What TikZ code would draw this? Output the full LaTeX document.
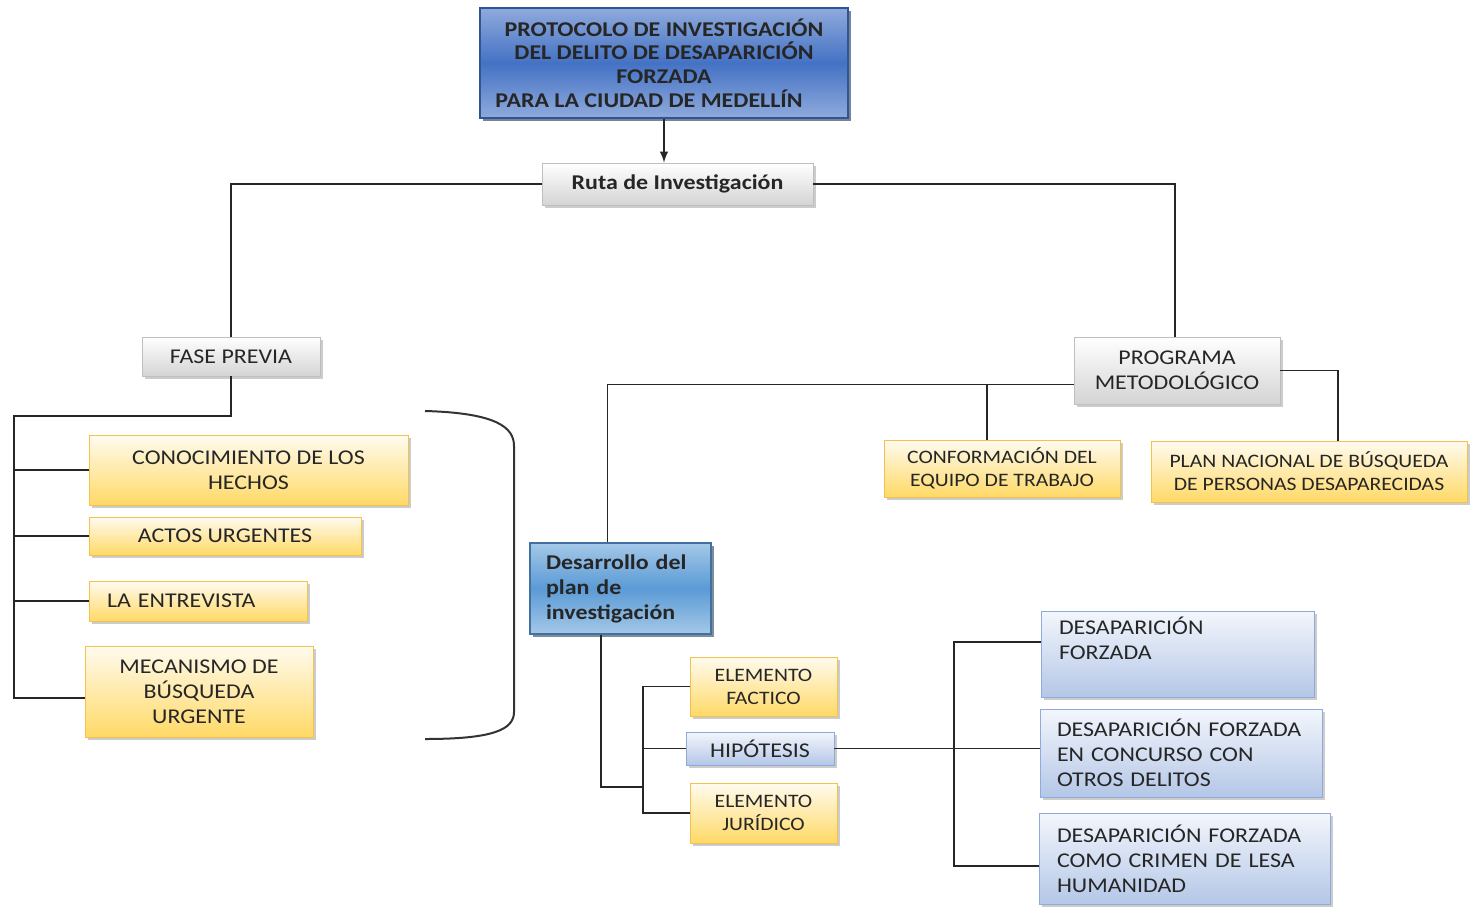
\documentclass[tikz,border=0pt]{standalone}
\usepackage{fontspec}
\setmainfont{Carlito}[FakeStretch=1.14]
\usetikzlibrary{shadows,positioning}
\definecolor{grayline}{HTML}{BFBFBF}
\definecolor{graybot}{HTML}{D4D4D4}
\definecolor{yelline}{HTML}{F2C14E}
\definecolor{yelbot}{HTML}{FFD966}
\definecolor{yeltop}{HTML}{FFFBEF}
\definecolor{titleline}{HTML}{2F5597}
\definecolor{titlemid}{HTML}{4472C4}
\definecolor{titleout}{HTML}{8FAADC}
\definecolor{devline}{HTML}{41719C}
\definecolor{devmid}{HTML}{5B9BD5}
\definecolor{devout}{HTML}{A4C8E8}
\definecolor{ltline}{HTML}{8FAADC}
\definecolor{lttop}{HTML}{F3F6FC}
\definecolor{ltbot}{HTML}{B4C7E7}

\begin{document}
\begin{tikzpicture}[x=0.5pt,y=-0.5pt,
	box/.style={draw,rectangle,inner sep=0pt,align=center,text=black!85,
		font=\fontsize{10.5}{12.5}\selectfont,
		drop shadow={shadow xshift=1.3pt,shadow yshift=-1.3pt,fill=black!40}},
	smallbox/.style={box,font=\fontsize{9.5}{11.5}\selectfont},
	graybox/.style={draw=grayline,top color=white,bottom color=graybot},
	yelbox/.style={draw=yelline,top color=yeltop,bottom color=yelbot},
	ltbox/.style={draw=ltline,top color=lttop,bottom color=ltbot},
	link/.style={draw=black!85,line width=0.9pt}]
	\useasboundingbox (0,0) rectangle (1473,906);
	% top of the chart
	\node[box,draw=titleline,line width=0.8pt,top color=titleout,bottom color=titleout,middle color=titlemid,
		font=\fontsize{10.5}{11.85}\selectfont\bfseries,minimum width=184pt,minimum height=55pt,
		drop shadow={shadow xshift=1.5pt,shadow yshift=-1.5pt,fill=titleline!70!black}]
		(titulo) at (664,63) {PROTOCOLO DE INVESTIGACIÓN\\DEL DELITO DE DESAPARICIÓN\\FORZADA\\PARA LA CIUDAD DE MEDELLÍN\hspace*{15pt}};
	\node[box,graybox,font=\fontsize{10.5}{12.5}\selectfont\bfseries,minimum width=135.5pt,minimum height=21pt] (ruta) at (677.5,184) {Ruta de Investigación};
	\draw[link,-latex] (titulo.south) -- (titulo.south |- ruta.north);
	% fase previa
	\node[box,graybox,minimum width=89pt,minimum height=19.5pt] (fase) at (231,356.5) {FASE PREVIA};
	\node[box,yelbox,minimum width=159.5pt,minimum height=35pt] (conoc) at (248.5,470) {CONOCIMIENTO DE LOS\\HECHOS};
	\node[box,yelbox,minimum width=136pt,minimum height=19pt] (actos) at (225,536) {ACTOS URGENTES};
	\node[box,yelbox,align=left,inner xsep=9pt,text width=91pt,minimum height=20pt] (entrev) at (198,601) {LA ENTREVISTA};
	\node[box,yelbox,minimum width=114pt,minimum height=45.5pt] (mecan) at (199,691.5) {MECANISMO DE\\BÚSQUEDA\\URGENTE};
	\draw[link] (ruta.west) -| (fase.north);
	\coordinate (fpl) at (14,416);
	\coordinate (fpb) at (14,698);
	\draw[link] (fase.south) |- (fpl) -- (fpb) -- (fpb -| mecan.west);
	\foreach \n in {conoc,actos,entrev} \draw[link] (\n.west) -- (\n.west -| fpl);
	\draw[black!80,line width=1pt] (425,411) .. controls (498,413) and (514,428) .. (514,446) -- (514,712) .. controls (514,730) and (492,739) .. (425,739);
	% programa metodologico
	\node[box,graybox,minimum width=103pt,minimum height=33.5pt] (prog) at (1177,370.5) {PROGRAMA\\METODOLÓGICO};
	\node[smallbox,yelbox,minimum width=118pt,minimum height=28.5pt] (conf) at (1002,468.5) {CONFORMACIÓN DEL\\EQUIPO DE TRABAJO};
	\node[smallbox,yelbox,minimum width=158pt,minimum height=30.5pt] (plan) at (1309,471.5) {PLAN NACIONAL DE BÚSQUEDA\\DE PERSONAS DESAPARECIDAS};
	\node[box,draw=devline,line width=0.8pt,top color=devout,bottom color=devout,middle color=devmid,
		font=\fontsize{10.5}{12.5}\selectfont\bfseries,align=left,inner xsep=8pt,text width=74.5pt,minimum height=45.5pt,
		drop shadow={shadow xshift=1.5pt,shadow yshift=-1.5pt,fill=devline!70!black}]
		(desa) at (620.5,588.5) {Desarrollo~del\\plan de\\investigación};
	\draw[link] (ruta.east) -| ([xshift=-1pt]prog.north);
	\coordinate (pml) at ([yshift=-7pt]prog.west);
	\coordinate (dnt) at ([xshift=-6.5pt]desa.north);
	\coordinate (cft) at ([xshift=-7.5pt]conf.north);
	\coordinate (pnt) at ([xshift=14.5pt]plan.north);
	\draw[link] (pml) -| (dnt);
	\draw[link] (cft) -- (cft |- pml);
	\draw[link] (prog.east) -| (pnt);
	% plan de investigacion
	\node[smallbox,yelbox,minimum width=73.5pt,minimum height=29.5pt] (fact) at (763.5,686.5) {ELEMENTO\\FACTICO};
	\node[box,ltbox,minimum width=74pt,minimum height=16.5pt] (hipo) at (760,748.5) {HIPÓTESIS};
	\node[smallbox,yelbox,minimum width=73.5pt,minimum height=30pt] (juri) at (763.5,813) {ELEMENTO\\JURÍDICO};
	\coordinate (dsb) at ([xshift=-9.75pt]desa.south);
	\coordinate (hk) at (643,787);
	\draw[link] (dsb) |- (hk);
	\draw[link] (fact.west) -| (hk);
	\draw[link] (juri.west) -| (hk);
	\draw[link] (hipo.west) -- (hipo.west -| hk);
	% tipos de desaparicion
	\node[box,ltbox,align=left,inner xsep=9pt,text width=118.5pt,minimum height=43pt] (df1) at (1177.5,654) {DESAPARICIÓN\\FORZADA\\\strut};
	\node[box,ltbox,align=left,inner xsep=8.5pt,text width=124pt,minimum height=44pt] (df2) at (1181,753) {DESAPARICIÓN~FORZADA\\EN CONCURSO CON\\OTROS DELITOS};
	\node[box,ltbox,align=left,inner xsep=9pt,text width=127.5pt,minimum height=45.5pt] (df3) at (1184.5,858.5) {DESAPARICIÓN~FORZADA\\COMO CRIMEN DE LESA\\HUMANIDAD};
	\coordinate (dft) at ([yshift=6pt]df1.west);
	\coordinate (dfb) at ([yshift=-3.75pt]df3.west);
	\coordinate (hv) at (954,748);
	\draw[link] (hipo.east) -- (hipo.east -| df2.west);
	\draw[link] (dft) -| (hv);
	\draw[link] (dfb) -| (hv);
\end{tikzpicture}
\end{document}
